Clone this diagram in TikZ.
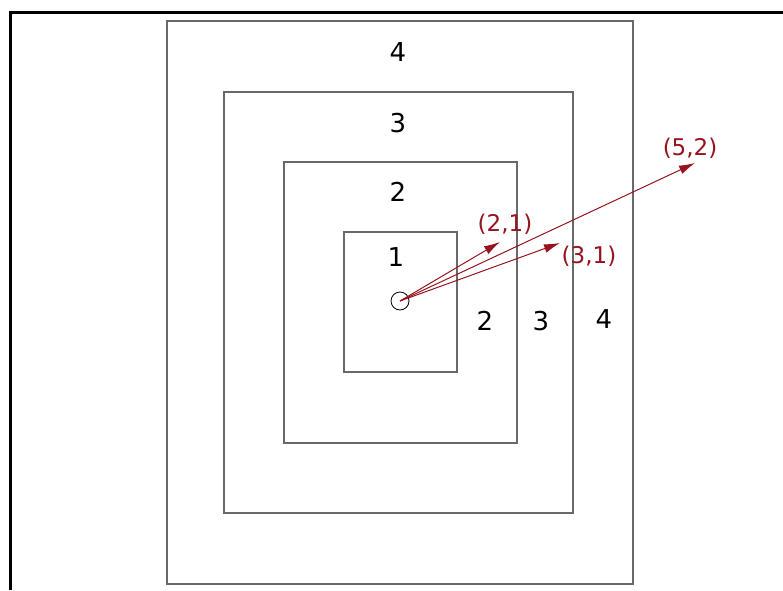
\documentclass[tikz,border=0pt]{standalone}
\usepackage{fontspec}
\setmainfont{DejaVu Sans}
\usetikzlibrary{arrows.meta}
\definecolor{vecred}{RGB}{150,20,30}
\definecolor{ringgray}{RGB}{105,105,105}
\tikzset{
  ring/.style={draw=ringgray,line width=1.4pt},
  ringnum/.style={font=\fontsize{26}{28}\selectfont,inner sep=0pt},
  vec/.style={vecred,line width=1pt,-{Latex[length=16pt,width=9pt]}},
  veclabel/.style={text=vecred,font=\fontsize{23}{25}\selectfont,inner sep=0pt}
}

\begin{document}
\begin{tikzpicture}[x=1pt,y=1pt]
  \useasboundingbox (0,0) rectangle (783,590);
  \draw[line width=3pt] (10,0) |- (783,577);
  \foreach \l/\b/\r/\t in {167/6/633/569,224/77/573/498,284/147/517/428,344/218/457/358}
    \draw[ring] (\l,\b) rectangle (\r,\t);
  \node[ringnum] (top4) at (398,538) {4};
  \node[ringnum] (top3) at (398,467) {3};
  \node[ringnum] (top2) at (398,398) {2};
  \node[ringnum] (top1) at (396,333) {1};
  \node[ringnum] (side2) at (485,269) {2};
  \node[ringnum] (side3) at (541,269) {3};
  \node[ringnum] (side4) at (604,271) {4};
  \node[draw,circle,line width=0.8pt,minimum size=18pt,inner sep=0pt] (o) at (400,289) {};
  \coordinate (p21) at (500,348);
  \coordinate (p31) at (560,347);
  \coordinate (p52) at (695,427);
  \draw[vec] (o.center) -- (p21);
  \draw[vec] (o.center) -- (p31);
  \draw[vec] (o.center) -- (p52);
  \node[veclabel] (l21) at (505,366) {(2,1)};
  \node[veclabel] (l31) at (589,334) {(3,1)};
  \node[veclabel] (l52) at (690,442) {(5,2)};
\end{tikzpicture}
\end{document}
